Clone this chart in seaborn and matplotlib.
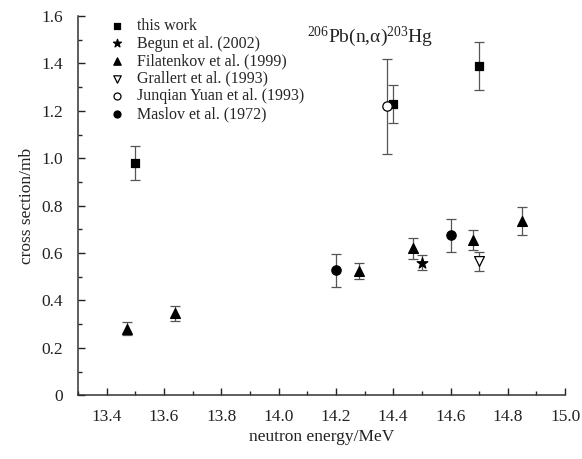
import numpy as np
import pandas as pd
import matplotlib
matplotlib.use("Agg")
import matplotlib.pyplot as plt
import seaborn as sns

# DATA
this_work_e = [13.50, 14.40, 14.70]
this_work_xs = [0.98, 1.23, 1.39]
this_work_err = [0.07, 0.08, 0.10]

begun_e = [14.50]
begun_xs = [0.56]
begun_err = [0.03]

filatenkov_e = [13.47, 13.64, 14.28, 14.47, 14.68, 14.85]
filatenkov_xs = [0.28, 0.345, 0.525, 0.62, 0.655, 0.735]
filatenkov_err = [0.028, 0.032, 0.035, 0.045, 0.043, 0.06]

grallert_e = [14.70]
grallert_xs = [0.565]
grallert_err = [0.04]

junqian_e = [14.38]
junqian_xs = [1.22]
junqian_err = [0.20]

maslov_e = [14.20, 14.60]
maslov_xs = [0.527, 0.675]
maslov_err = [0.07, 0.07]

x_ticks = [13.4, 13.6, 13.8, 14.0, 14.2, 14.4, 14.6, 14.8, 15.0]
y_ticks = [0, 0.2, 0.4, 0.6, 0.8, 1.0, 1.2, 1.4, 1.6]
y_tick_labels = ["0", "0.2", "0.4", "0.6", "0.8", "1.0", "1.2", "1.4", "1.6"]

sns.set_style("ticks")
plt.rcParams["font.family"] = ["Liberation Serif", "DejaVu Serif"]
plt.rcParams["mathtext.fontset"] = "custom"
plt.rcParams["mathtext.rm"] = "Liberation Serif"
plt.rcParams["mathtext.it"] = "Liberation Serif:italic"

# (label, energies, values, errors, marker, filled, size)
datasets = [
    ("this work", this_work_e, this_work_xs, this_work_err, "s", True, 36),
    ("Begun et al. (2002)", begun_e, begun_xs, begun_err, "*", True, 65),
    ("Filatenkov et al. (1999)", filatenkov_e, filatenkov_xs, filatenkov_err, "^", True, 50),
    ("Grallert et al. (1993)", grallert_e, grallert_xs, grallert_err, "v", False, 50),
    ("Junqian Yuan et al. (1993)", junqian_e, junqian_xs, junqian_err, "o", False, 45),
    ("Maslov et al. (1972)", maslov_e, maslov_xs, maslov_err, "o", True, 45),
]

fig = plt.figure(figsize=(5.82, 4.59), dpi=100)
ax = fig.add_axes([0.134, 0.139, 0.837, 0.826])

for label, e, xs, err, marker, filled, size in datasets:
    df = pd.DataFrame({"energy": e, "xs": xs, "err": err})
    ax.errorbar(df["energy"], df["xs"], yerr=df["err"], fmt="none",
                ecolor="#555555", elinewidth=0.9, capsize=3.5, capthick=0.9, zorder=2)
    sns.scatterplot(data=df, x="energy", y="xs", ax=ax, marker=marker, s=size,
                    facecolor="black" if filled else "white", edgecolor="black",
                    linewidth=0.9, label=label, zorder=3)

ax.set_xlim(13.3, 15.0)
ax.set_ylim(0, 1.6)
ax.set_xticks(x_ticks)
ax.set_xticklabels([f"{t:.1f}" for t in x_ticks])
ax.set_yticks(y_ticks)
ax.set_yticklabels(y_tick_labels)
ax.set_xticks(np.arange(13.3, 15.0, 0.2), minor=True)
ax.set_yticks(np.arange(0.1, 1.6, 0.2), minor=True)
ax.tick_params(direction="in", which="major", length=5, width=1, labelsize=12.5,
               colors="#222222")
ax.tick_params(axis="y", which="major", pad=11)
ax.tick_params(axis="x", which="major", pad=10)
ax.tick_params(direction="in", which="minor", length=3, width=1)
sns.despine(ax=ax)
for side in ["left", "bottom"]:
    ax.spines[side].set_color("#333333")
    ax.spines[side].set_linewidth(1.1)

ax.set_xlabel("neutron energy/MeV", fontsize=12.5, color="#222222", labelpad=3)
ax.set_ylabel("cross section/mb", fontsize=12.5, color="#222222", labelpad=4)

ax.text(0.47, 0.945, r"$^{206}$Pb(n,α)$^{203}$Hg", transform=ax.transAxes,
        fontsize=14, color="#222222", va="center", ha="left")

ax.legend(loc="upper left", bbox_to_anchor=(0.027, 1.02), frameon=False,
          fontsize=11.5, handletextpad=0.3, labelspacing=0.1, markerscale=0.75,
          borderaxespad=0.2)

plt.savefig("out.png", dpi=100)
